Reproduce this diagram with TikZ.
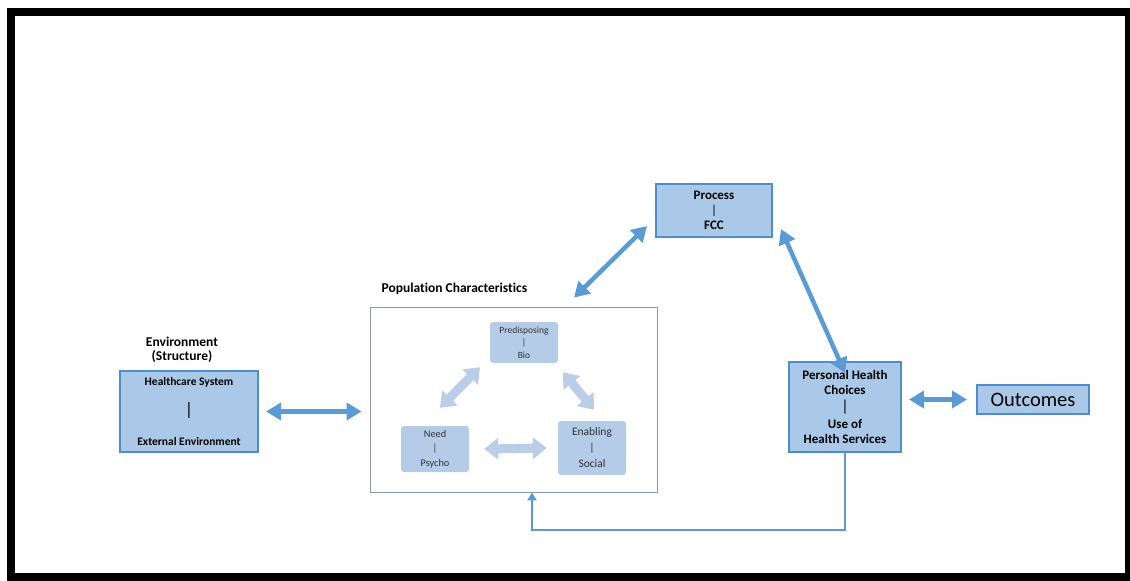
\documentclass[tikz,border=0pt]{standalone}
\usepackage{fontspec}
\setmainfont{Carlito}[Ligatures=NoCommon]
\usetikzlibrary{arrows.meta,positioning,calc}
\definecolor{BoxF}{HTML}{AAC8E8}
\definecolor{BoxD}{HTML}{4F8CCB}
\definecolor{ArrB}{HTML}{5B9BD5}
\definecolor{InF}{HTML}{B4CCE8}
\definecolor{InA}{HTML}{BACEE8}
\definecolor{PopD}{HTML}{8298AE}
\begin{document}
\begin{tikzpicture}[x=1pt,y=-1pt,
    mainbox/.style={draw=BoxD,fill=BoxF,line width=2pt,align=center,inner sep=0pt,
      font=\bfseries\fontsize{13}{15}\selectfont},
    inbox/.style={fill=InF,rounded corners=3pt,align=center,inner sep=0pt,text=black!80,
      minimum width=68pt},
    ttl/.style={font=\bfseries\fontsize{13.5}{14}\selectfont,align=center},
    bigarr/.style={ArrB,line width=5pt,{Triangle[width=17pt,length=15pt]}-{Triangle[width=17pt,length=15pt]}},
    inarr/.style={InA,line width=9pt,{Triangle[width=21pt,length=14pt]}-{Triangle[width=21pt,length=14pt]}},
    >=Stealth]
  \useasboundingbox (0,0) rectangle (1130,581);
  \draw[line width=8pt] (11,12) rectangle (1129,577);
  % environment
  \node[ttl] (envt) at (182,350) {Environment\\(Structure)};
  \node[mainbox,minimum width=138pt,minimum height=81pt,
        font=\bfseries\fontsize{11.5}{30}\selectfont] (env) at (189,411.5)
       {Healthcare System\\{\fontsize{18}{30}\selectfont\mdseries|}\\External Environment};
  % population characteristics
  \node[draw=PopD,line width=0.8pt,minimum width=287pt,minimum height=185pt] (pop) at (513.5,399.5) {};
  \node[ttl,anchor=west] (popt) at (378,289) {Population Characteristics};
  \node[inbox,minimum height=41pt,font=\fontsize{9.5}{12.5}\selectfont] (pred) at (524,342.5)
       {Predisposing\\|\\Bio};
  \node[inbox,minimum height=46pt,font=\fontsize{10.3}{14.5}\selectfont] (need) at (435,449)
       {Need\\|\\Psycho};
  \node[inbox,minimum height=54pt,font=\fontsize{11.5}{16}\selectfont] (enab) at (592,448)
       {Enabling\\|\\Social};
  \draw[inarr] ([shift={(5,-18)}]need.north) -- ([shift={(-44,4)}]pred.south);
  \draw[inarr] ([shift={(39,9)}]pred.south) -- ([shift={(2,-11)}]enab.north);
  \draw[inarr] ([xshift=15pt]need.east) -- ([xshift=-11pt]enab.west);
  % process
  \node[mainbox,minimum width=116pt,minimum height=53pt] (proc) at (714,210.5)
       {Process\\{\mdseries|}\\FCC};
  % personal health choices
  \node[mainbox,minimum width=112pt,minimum height=90pt] (pers) at (845,407)
       {Personal Health\\Choices\\[2pt]{\fontsize{16}{15}\selectfont\mdseries|}\\[2pt]Use of\\Health Services};
  % outcomes
  \node[draw=BoxD,fill=BoxF,line width=2pt,minimum width=112pt,minimum height=29pt,
        font=\fontsize{20.5}{22}\selectfont,inner sep=0pt] (out) at (1033,399.5) {Outcomes\hspace{11pt}};
  % connectors
  \draw[bigarr] ([xshift=7pt]env.east) -- ([xshift=-8pt]env.east -| pop.west);
  \draw[bigarr,line width=4.5pt] ([shift={(60.5,-9)}]pop.north) -- ([shift={(-8,-12)}]proc.south west);
  \draw[bigarr,line width=4.5pt] ([shift={(8,-9)}]proc.south east) -- ([yshift=-12pt]pers.north);
  \draw[bigarr,line width=4.5pt] ([xshift=7pt]pers.east |- out.west) -- ([xshift=-9pt]out.west);
  \draw[ArrB,line width=2.5pt,-{Triangle[width=9pt,length=8pt]}]
       (pers.south) -- ++(0,77) -| ([xshift=18.5pt]pop.south);
\end{tikzpicture}
\end{document}
